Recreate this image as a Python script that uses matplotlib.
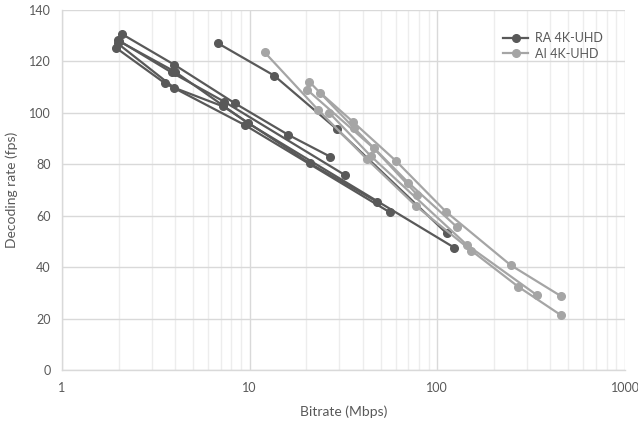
import numpy as np
import matplotlib
matplotlib.use("Agg")
import matplotlib.pyplot as plt
from matplotlib.ticker import FixedLocator, LogLocator, NullFormatter

# RA 4K-UHD, one polyline per sequence (bitrate Mbps, decoding fps)
ra_x = [
    [2.08, 3.97, 8.35, 16.1, 26.8],
    [1.98, 3.84, 7.3, 32.2],
    [1.98, 3.95, 7.22, 20.9, 47.5],
    [1.93, 3.54, 9.4, 55.9],
    [6.8, 13.5, 29.1, 112.0],
    [2.0, 4.0, 9.8, 123.0],
]
ra_y = [
    [130.7, 118.7, 103.7, 91.4, 83.0],
    [128.4, 115.7, 104.4, 75.8],
    [127.0, 109.8, 102.5, 80.4, 65.5],
    [125.4, 111.5, 95.3, 61.3],
    [127.0, 114.5, 93.7, 53.2],
    [128.0, 116.0, 96.0, 47.6],
]

# AI 4K-UHD
ai_x = [
    [23.7, 35.4, 60.2, 111.0, 245.6, 454.0],
    [12.0, 23.2, 42.3, 76.9, 152.0, 269.8, 454.0],
    [20.8, 36.1, 70.0, 127.6],
    [20.3, 45.9, 78.2],
    [26.5, 44.2, 144.0, 338.0],
]
ai_y = [
    [107.9, 96.6, 81.3, 61.6, 40.8, 28.8],
    [123.6, 101.1, 81.9, 63.8, 46.4, 32.4, 21.4],
    [112.1, 94.0, 72.9, 55.5],
    [108.9, 86.2, 68.1],
    [100.1, 83.2, 48.6, 29.2],
]

plt.rcParams["font.family"] = ["Lato", "DejaVu Sans"]

fig = plt.figure(figsize=(6.38, 4.24), dpi=100)
ax = fig.add_axes([0.0972, 0.1274, 0.8824, 0.849])

ra_col = "#595959"
ai_col = "#a5a5a5"

# RA drawn first, AI on top
for i, (xs, ys) in enumerate(zip(ra_x, ra_y)):
    ax.plot(xs, ys, "-o", color=ra_col, lw=1.6, ms=5.5,
            label="RA 4K-UHD" if i == 0 else None, zorder=3)
for i, (xs, ys) in enumerate(zip(ai_x, ai_y)):
    ax.plot(xs, ys, "-o", color=ai_col, lw=1.6, ms=5.5,
            label="AI 4K-UHD" if i == 0 else None, zorder=4)

ax.set_xscale("log")
ax.set_xlim(1, 1000)
ax.set_ylim(0, 140)
ax.yaxis.set_major_locator(FixedLocator(np.arange(0, 141, 20)))
ax.xaxis.set_major_locator(FixedLocator([1, 10, 100, 1000]))
ax.xaxis.set_minor_locator(LogLocator(base=10, subs=np.arange(2, 10)))
ax.xaxis.set_minor_formatter(NullFormatter())
ax.set_xticklabels(["1", "10", "100", "1000"])

ax.grid(True, which="major", color="#d9d9d9", lw=1.0, zorder=0)
ax.grid(True, which="minor", axis="x", color="#ededed", lw=1.0, zorder=0)
ax.set_axisbelow(True)

for s in ["top", "right"]:
    ax.spines[s].set_visible(False)
for s in ["left", "bottom"]:
    ax.spines[s].set_color("#d9d9d9")
    ax.spines[s].set_linewidth(1.0)

ax.tick_params(which="both", length=0, colors="#595959", labelsize=9)
ax.tick_params(axis="x", pad=9)
ax.tick_params(axis="y", pad=8)

ax.set_xlabel("Bitrate (Mbps)", color="#595959", fontsize=10, labelpad=8)
ax.set_ylabel("Decoding rate (fps)", color="#595959", fontsize=10, labelpad=8)

leg = ax.legend(loc="upper left", frameon=False, fontsize=9,
                bbox_to_anchor=(0.775, 0.953), handlelength=2.0,
                handletextpad=0.5, labelspacing=0.3, borderaxespad=0)
for t in leg.get_texts():
    t.set_color("#595959")

fig.savefig("out.png", dpi=100)
